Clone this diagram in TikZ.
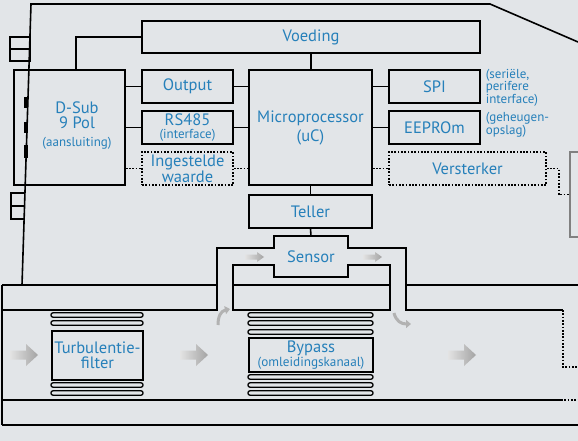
\documentclass[tikz,border=0pt]{standalone}
\usepackage{fontspec}
\setmainfont{PT Sans}
\usetikzlibrary{arrows.meta}

\definecolor{bgcol}{RGB}{226,229,232}
\definecolor{txtblue}{RGB}{38,128,186}

\begin{document}
\begin{tikzpicture}[
    x=1pt, y=-1pt,
    line width=1.6pt,
    box/.style={draw, fill=bgcol, inner sep=0pt, align=center, text=txtblue,
        font=\fontsize{16.5}{15}\selectfont},
    optbox/.style={box, dash pattern=on 1.7pt off 1.6pt},
    dots/.style={dash pattern=on 1.7pt off 1.6pt},
    fin/.style={draw, rounded corners=2pt, line width=1.3pt},
    note/.style={text=txtblue, align=left, anchor=west, inner sep=0pt,
        font=\fontsize{13}{12.5}\selectfont},
    flow/.style={left color=gray!22, right color=gray!72},
    ]

\useasboundingbox (0,0) rectangle (578,441);
\fill[bgcol] (0,0) rectangle (578,441);

% Boxes
\node[box, minimum width=111, minimum height=115] (dsub) at (69.5,127.5) {};
\node[text=txtblue, align=center, font=\fontsize{16.5}{15}\selectfont] (dsubtext) at (77,126)
    {D-Sub\\9 Pol\\[3pt]{\fontsize{13}{13}\selectfont (aansluiting)}};
\node[box, minimum width=338, minimum height=32] (voeding) at (311,37) {Voeding};
\node[box, minimum width=91, minimum height=33] (output) at (187.5,86.5) {Output};
\node[box, minimum width=91, minimum height=33] (rs) at (187.5,127.5)
    {RS485\\[-2pt]{\fontsize{13}{12}\selectfont (interface)}};
\node[optbox, minimum width=91, minimum height=33] (ingest) at (187.5,168.5)
    {Ingestelde\\waarde};
\node[box, minimum width=123, minimum height=115] (micro) at (310.5,127.5)
    {Microprocessor\\[3pt](uC)};
\node[box, minimum width=91, minimum height=33] (spi) at (434.5,86.5) {SPI};
\node[box, minimum width=91, minimum height=33] (eeprom) at (434.5,127.5) {EEPROm};
\node[optbox, minimum width=157, minimum height=33] (versterker) at (467.5,168.5)
    {Versterker};
\node[box, minimum width=123, minimum height=33] (teller) at (310.5,211.5) {Teller};
\node[box, draw=gray, minimum width=30, minimum height=85] (amp) at (585,194.5) {};

% Notes
\node[note] (spinote) at (485,87.5) {(seriële,\\perifere\\interface)};
\node[note] (eepnote) at (485,125) {(geheugen-\\opslag)};

% Connections
\draw (voeding.west) -| ([xshift=6.5pt]dsub.north);
\draw (voeding.south) -- (voeding.south |- micro.north);
\draw (dsub.east |- output.west) -- (output.west);
\draw (dsub.east |- rs.west) -- (rs.west);
\draw[dots] (dsub.east |- ingest.west) -- (ingest.west);
\draw (output.east) -- (micro.west |- output.east);
\draw (rs.east) -- (micro.west |- rs.east);
\draw[dots] (ingest.east) -- (micro.west |- ingest.east);
\draw (micro.east |- spi.west) -- (spi.west);
\draw (micro.east |- eeprom.west) -- (eeprom.west);
\draw[dots] (micro.east |- versterker.west) -- (versterker.west);
\draw[dots] (versterker.east) -- ++(12,0) |- (amp.west);
\draw (micro.south) -- (teller.north);

% Housing
\draw (22,285) -- (31,4) -- (490,4) -- (578,42);
\foreach \y in {37,49} \draw (10,\y) rectangle (30,\y+12);
\foreach \y in {193,206} \draw (11,\y) rectangle (24.5,\y+13);
\foreach \a/\b in {97/108, 122/133, 145/158} \fill (24,\a) rectangle (27.5,\b);

% Sensor channel
\coordinate (sensortop) at (311,236);
\node[text=txtblue, font=\fontsize{16.5}{15}\selectfont] (sensor) at (311,257) {Sensor};
\draw (teller.south) -- (sensortop);
\draw (2,310) -- (217,310) -- (217,248) -- (274,248) -- (274,236) -- (348,236)
    -- (348,248) -- (406,248) -- (406,310) -- (563,310);
\draw (233,310) -- (233,265) -- (274,265) -- (274,277) -- (348,277) -- (348,265)
    -- (390,265) -- (390,310) -- cycle;
\draw (233,285) -- (390,285);

% Pipe
\draw (2,285) -- (217,285);
\draw (406,285) -- (578,285);
\draw (2,285) -- (2,425);
\draw (2,400) -- (561,400);
\draw[dots] (561,400) -- (578,400);
\draw (2,425) -- (578,425);
\draw[dots] (563,310) -- (563,367) -- (578,367);

% Filter and bypass
\node[box, minimum width=91, minimum height=49] (filter) at (97.5,355.5)
    {Turbulentie-\\filter};
\foreach \y in {315,323,385,393} \draw[fin] (51,\y-2.2) rectangle (143,\y+2.2);
\node[box, minimum width=124, minimum height=34] (bypass) at (311,355)
    {Bypass\\[-1pt]{\fontsize{13.2}{12}\selectfont (omleidingskanaal)}};
\foreach \y in {315,323,332,377,385,393} \draw[fin] (248,\y-2.2) rectangle (373,\y+2.2);

% Flow arrows
\foreach \x in {10,180,448}
    \shade[flow]
        (\x,350.5) -- (\x+16,350.5) -- (\x+16,344) -- (\x+28,355) -- (\x+16,366)
        -- (\x+16,359.5) -- (\x,359.5) -- cycle;
\foreach \x in {245,363}
    \shade[flow]
        (\x,254.5) -- (\x+12,254.5) -- (\x+12,252) -- (\x+19,257) -- (\x+12,262)
        -- (\x+12,259.5) -- (\x,259.5) -- cycle;
\draw[line width=3pt, gray!60, -{Triangle[length=5pt, width=8pt]}]
    (218,325) .. controls (218,316) and (221,311) .. (230,309);
\draw[line width=3pt, gray!60, -{Triangle[length=5pt, width=8pt]}]
    (394,313) .. controls (396,321) and (401,324) .. (411,324);

\end{tikzpicture}
\end{document}
